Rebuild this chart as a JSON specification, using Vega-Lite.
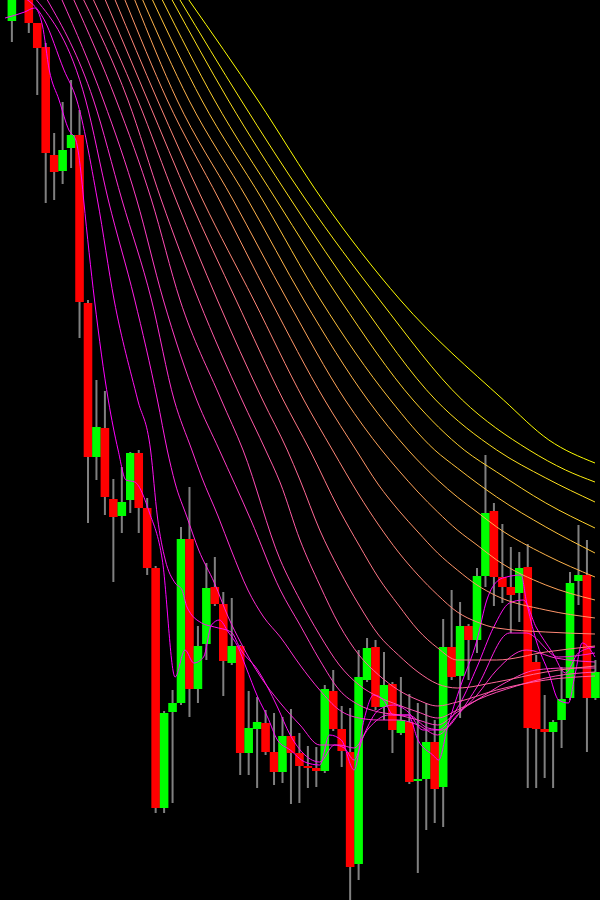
{
  "$schema": "https://vega.github.io/schema/vega-lite/v6.json",
  "width": 600,
  "height": 900,
  "padding": 0,
  "autosize": {"type": "none"},
  "background": "#000000",
  "config": {"view": {"stroke": null}},
  "datasets": {
    "candles": [
      {"t":0,"o":879,"c":903,"h":910,"l":858},
      {"t":1,"o":903,"c":920,"h":930,"l":902},
      {"t":2,"o":905,"c":877,"h":910,"l":867},
      {"t":3,"o":877,"c":852,"h":877,"l":805},
      {"t":4,"o":853,"c":747,"h":857,"l":697},
      {"t":5,"o":745,"c":728,"h":767,"l":700},
      {"t":6,"o":729,"c":750,"h":798,"l":716},
      {"t":7,"o":752,"c":765,"h":820,"l":732},
      {"t":8,"o":765,"c":598,"h":790,"l":562},
      {"t":9,"o":597,"c":443,"h":600,"l":377},
      {"t":10,"o":443,"c":473,"h":520,"l":420},
      {"t":11,"o":472,"c":403,"h":509,"l":385},
      {"t":12,"o":401,"c":383,"h":421,"l":318},
      {"t":13,"o":384,"c":398,"h":433,"l":367},
      {"t":14,"o":400,"c":447,"h":448,"l":387},
      {"t":15,"o":447,"c":392,"h":450,"l":367},
      {"t":16,"o":392,"c":332,"h":402,"l":325},
      {"t":17,"o":332,"c":92,"h":334,"l":87},
      {"t":18,"o":92,"c":187,"h":189,"l":87},
      {"t":19,"o":188,"c":197,"h":210,"l":97},
      {"t":20,"o":197,"c":361,"h":373,"l":195},
      {"t":21,"o":361,"c":211,"h":413,"l":183},
      {"t":22,"o":211,"c":254,"h":274,"l":197},
      {"t":23,"o":256,"c":312,"h":337,"l":240},
      {"t":24,"o":313,"c":296,"h":343,"l":294},
      {"t":25,"o":296,"c":239,"h":308,"l":204},
      {"t":26,"o":237,"c":254,"h":302,"l":235},
      {"t":27,"o":254,"c":147,"h":255,"l":125},
      {"t":28,"o":147,"c":172,"h":209,"l":125},
      {"t":29,"o":171,"c":178,"h":203,"l":112},
      {"t":30,"o":177,"c":148,"h":190,"l":145},
      {"t":31,"o":148,"c":128,"h":187,"l":115},
      {"t":32,"o":128,"c":164,"h":183,"l":117},
      {"t":33,"o":164,"c":147,"h":191,"l":96},
      {"t":34,"o":147,"c":134,"h":167,"l":97},
      {"t":35,"o":134,"c":132,"h":154,"l":112},
      {"t":36,"o":132,"c":129,"h":153,"l":113},
      {"t":37,"o":129,"c":211,"h":215,"l":127},
      {"t":38,"o":209,"c":171,"h":230,"l":169},
      {"t":39,"o":171,"c":149,"h":194,"l":133},
      {"t":40,"o":148,"c":33,"h":192,"l":-5},
      {"t":41,"o":36,"c":223,"h":250,"l":20},
      {"t":42,"o":220,"c":252,"h":262,"l":218},
      {"t":43,"o":253,"c":193,"h":260,"l":190},
      {"t":44,"o":193,"c":215,"h":248,"l":180},
      {"t":45,"o":216,"c":170,"h":218,"l":147},
      {"t":46,"o":167,"c":180,"h":223,"l":165},
      {"t":47,"o":178,"c":118,"h":206,"l":116},
      {"t":48,"o":119,"c":121,"h":197,"l":27},
      {"t":49,"o":121,"c":158,"h":197,"l":70},
      {"t":50,"o":158,"c":111,"h":180,"l":77},
      {"t":51,"o":113,"c":253,"h":281,"l":73},
      {"t":52,"o":253,"c":223,"h":310,"l":220},
      {"t":53,"o":224,"c":274,"h":298,"l":182},
      {"t":54,"o":274,"c":260,"h":276,"l":220},
      {"t":55,"o":260,"c":324,"h":332,"l":247},
      {"t":56,"o":324,"c":387,"h":445,"l":313},
      {"t":57,"o":389,"c":323,"h":397,"l":294},
      {"t":58,"o":323,"c":313,"h":376,"l":297},
      {"t":59,"o":313,"c":305,"h":353,"l":267},
      {"t":60,"o":307,"c":332,"h":348,"l":278},
      {"t":61,"o":333,"c":172,"h":356,"l":112},
      {"t":62,"o":238,"c":171,"h":245,"l":112},
      {"t":63,"o":171,"c":168,"h":205,"l":122},
      {"t":64,"o":168,"c":178,"h":180,"l":112},
      {"t":65,"o":180,"c":201,"h":233,"l":152},
      {"t":66,"o":202,"c":317,"h":328,"l":200},
      {"t":67,"o":319,"c":325,"h":375,"l":295},
      {"t":68,"o":325,"c":202,"h":360,"l":148},
      {"t":69,"o":202,"c":228,"h":240,"l":200}
    ],
    "ribbon": [
      {"k":1,"t":-0.81,"p":882},{"k":1,"t":1.51,"p":888},{"k":1,"t":2.67,"p":892},{"k":1,"t":3.6,"p":875},{"k":1,"t":4.42,"p":830},{"k":1,"t":5.58,"p":800},{"k":1,"t":6.74,"p":770},{"k":1,"t":7.56,"p":760},{"k":1,"t":8.26,"p":720},{"k":1,"t":8.49,"p":700},{"k":1,"t":9.77,"p":600},{"k":1,"t":11.4,"p":500},{"k":1,"t":12.56,"p":450},{"k":1,"t":13.49,"p":420},{"k":1,"t":14.53,"p":418},{"k":1,"t":16.28,"p":387},{"k":1,"t":17.79,"p":340},{"k":1,"t":19.3,"p":223},{"k":1,"t":20.47,"p":250},{"k":1,"t":21.51,"p":237},{"k":1,"t":22.67,"p":243},{"k":1,"t":23.6,"p":275},{"k":1,"t":24.53,"p":280},{"k":1,"t":25.58,"p":268},{"k":1,"t":26.74,"p":253},{"k":1,"t":27.67,"p":233},{"k":1,"t":29.07,"p":203},{"k":1,"t":30.23,"p":183},{"k":1,"t":31.4,"p":160},{"k":1,"t":32.91,"p":150},{"k":1,"t":34.65,"p":138},{"k":1,"t":36.4,"p":135},{"k":1,"t":37.56,"p":165},{"k":1,"t":38.95,"p":160},{"k":1,"t":40.47,"p":130},{"k":1,"t":41.63,"p":180},{"k":1,"t":42.79,"p":205},{"k":1,"t":43.95,"p":200},{"k":1,"t":45.12,"p":185},{"k":1,"t":46.86,"p":185},{"k":1,"t":48.02,"p":160},{"k":1,"t":49.77,"p":145},{"k":1,"t":50.47,"p":140},{"k":1,"t":51.51,"p":173},{"k":1,"t":53.02,"p":213},{"k":1,"t":55.0,"p":260},{"k":1,"t":56.16,"p":300},{"k":1,"t":57.56,"p":320},{"k":1,"t":58.49,"p":323},{"k":1,"t":60.23,"p":325},{"k":1,"t":60.81,"p":300},{"k":1,"t":61.98,"p":260},{"k":1,"t":63.49,"p":227},{"k":1,"t":64.65,"p":200},{"k":1,"t":65.81,"p":197},{"k":1,"t":66.63,"p":227},{"k":1,"t":67.44,"p":257},{"k":1,"t":68.95,"p":243},
      {"k":2,"t":0.93,"p":905},{"k":2,"t":3.84,"p":880},{"k":2,"t":6.16,"p":830},{"k":2,"t":7.67,"p":800},{"k":2,"t":10.12,"p":700},{"k":2,"t":12.09,"p":600},{"k":2,"t":14.88,"p":500},{"k":2,"t":16.4,"p":450},{"k":2,"t":17.21,"p":383},{"k":2,"t":18.14,"p":340},{"k":2,"t":19.3,"p":317},{"k":2,"t":20.12,"p":310},{"k":2,"t":20.7,"p":293},{"k":2,"t":22.44,"p":277},{"k":2,"t":23.95,"p":273},{"k":2,"t":25.93,"p":268},{"k":2,"t":27.09,"p":250},{"k":2,"t":29.07,"p":230},{"k":2,"t":30.23,"p":213},{"k":2,"t":31.4,"p":193},{"k":2,"t":32.91,"p":165},{"k":2,"t":34.65,"p":145},{"k":2,"t":36.4,"p":138},{"k":2,"t":38.14,"p":155},{"k":2,"t":39.3,"p":152},{"k":2,"t":40.47,"p":140},{"k":2,"t":41.63,"p":165},{"k":2,"t":43.37,"p":190},{"k":2,"t":45.12,"p":195},{"k":2,"t":46.86,"p":188},{"k":2,"t":48.6,"p":170},{"k":2,"t":50.35,"p":170},{"k":2,"t":53.02,"p":197},{"k":2,"t":55.0,"p":233},{"k":2,"t":56.98,"p":273},{"k":2,"t":58.84,"p":297},{"k":2,"t":60.47,"p":300},{"k":2,"t":61.98,"p":273},{"k":2,"t":63.95,"p":247},{"k":2,"t":65.47,"p":227},{"k":2,"t":66.98,"p":247},{"k":2,"t":68.95,"p":253},
      {"k":3,"t":2.91,"p":900},{"k":3,"t":8.72,"p":800},{"k":3,"t":11.4,"p":700},{"k":3,"t":14.53,"p":600},{"k":3,"t":17.21,"p":500},{"k":3,"t":18.37,"p":450},{"k":3,"t":19.3,"p":417},{"k":3,"t":20.7,"p":383},{"k":3,"t":22.09,"p":350},{"k":3,"t":23.95,"p":317},{"k":3,"t":25.58,"p":283},{"k":3,"t":27.09,"p":257},{"k":3,"t":29.42,"p":223},{"k":3,"t":31.74,"p":197},{"k":3,"t":34.07,"p":175},{"k":3,"t":36.4,"p":155},{"k":3,"t":38.72,"p":155},{"k":3,"t":40.47,"p":152},{"k":3,"t":42.21,"p":172},{"k":3,"t":44.53,"p":185},{"k":3,"t":46.86,"p":185},{"k":3,"t":49.19,"p":172},{"k":3,"t":50.93,"p":170},{"k":3,"t":53.02,"p":188},{"k":3,"t":55.0,"p":213},{"k":3,"t":58.84,"p":267},{"k":3,"t":60.81,"p":267},{"k":3,"t":64.65,"p":243},{"k":3,"t":68.95,"p":247},
      {"k":4,"t":4.19,"p":900},{"k":4,"t":9.65,"p":800},{"k":4,"t":13.02,"p":700},{"k":4,"t":16.51,"p":600},{"k":4,"t":19.19,"p":500},{"k":4,"t":21.28,"p":450},{"k":4,"t":22.44,"p":423},{"k":4,"t":24.42,"p":383},{"k":4,"t":25.93,"p":350},{"k":4,"t":27.91,"p":310},{"k":4,"t":29.77,"p":283},{"k":4,"t":31.74,"p":263},{"k":4,"t":34.07,"p":235},{"k":4,"t":36.4,"p":210},{"k":4,"t":38.72,"p":190},{"k":4,"t":41.05,"p":182},{"k":4,"t":43.37,"p":180},{"k":4,"t":45.7,"p":180},{"k":4,"t":48.02,"p":175},{"k":4,"t":50.35,"p":165},{"k":4,"t":52.67,"p":185},{"k":4,"t":55.0,"p":205},{"k":4,"t":57.33,"p":230},{"k":4,"t":60.81,"p":250},{"k":4,"t":64.3,"p":242},{"k":4,"t":68.95,"p":238},
      {"k":5,"t":5.93,"p":900},{"k":5,"t":10.81,"p":800},{"k":5,"t":14.77,"p":700},{"k":5,"t":17.91,"p":600},{"k":5,"t":21.86,"p":500},{"k":5,"t":24.53,"p":450},{"k":5,"t":28.26,"p":380},{"k":5,"t":31.74,"p":310},{"k":5,"t":34.07,"p":275},{"k":5,"t":36.4,"p":240},{"k":5,"t":38.72,"p":210},{"k":5,"t":41.05,"p":195},{"k":5,"t":43.37,"p":188},{"k":5,"t":45.7,"p":185},{"k":5,"t":48.02,"p":180},{"k":5,"t":50.35,"p":175},{"k":5,"t":52.67,"p":188},{"k":5,"t":55.0,"p":200},{"k":5,"t":58.49,"p":218},{"k":5,"t":61.98,"p":230},{"k":5,"t":65.47,"p":232},{"k":5,"t":68.95,"p":232},
      {"k":6,"t":7.33,"p":900},{"k":6,"t":12.33,"p":800},{"k":6,"t":16.51,"p":700},{"k":6,"t":19.88,"p":600},{"k":6,"t":24.77,"p":500},{"k":6,"t":27.33,"p":450},{"k":6,"t":31.74,"p":340},{"k":6,"t":34.07,"p":300},{"k":6,"t":36.4,"p":265},{"k":6,"t":38.72,"p":235},{"k":6,"t":41.05,"p":215},{"k":6,"t":43.37,"p":203},{"k":6,"t":45.7,"p":195},{"k":6,"t":48.02,"p":188},{"k":6,"t":50.35,"p":182},{"k":6,"t":52.67,"p":190},{"k":6,"t":55.0,"p":200},{"k":6,"t":59.65,"p":214},{"k":6,"t":64.3,"p":224},{"k":6,"t":68.95,"p":228},
      {"k":7,"t":8.49,"p":900},{"k":7,"t":13.72,"p":800},{"k":7,"t":17.67,"p":700},{"k":7,"t":22.09,"p":600},{"k":7,"t":27.21,"p":500},{"k":7,"t":30.0,"p":450},{"k":7,"t":31.74,"p":417},{"k":7,"t":34.07,"p":360},{"k":7,"t":36.4,"p":315},{"k":7,"t":38.72,"p":275},{"k":7,"t":41.05,"p":245},{"k":7,"t":43.37,"p":225},{"k":7,"t":45.7,"p":210},{"k":7,"t":48.02,"p":200},{"k":7,"t":50.35,"p":194},{"k":7,"t":52.67,"p":198},{"k":7,"t":57.33,"p":210},{"k":7,"t":63.14,"p":220},{"k":7,"t":68.95,"p":224},
      {"k":8,"t":9.65,"p":900},{"k":8,"t":14.88,"p":800},{"k":8,"t":19.42,"p":700},{"k":8,"t":24.3,"p":600},{"k":8,"t":29.65,"p":500},{"k":8,"t":32.56,"p":450},{"k":8,"t":34.07,"p":420},{"k":8,"t":36.4,"p":370},{"k":8,"t":38.72,"p":330},{"k":8,"t":41.05,"p":295},{"k":8,"t":43.37,"p":265},{"k":8,"t":45.7,"p":245},{"k":8,"t":48.02,"p":228},{"k":8,"t":50.35,"p":216},{"k":8,"t":52.67,"p":212},{"k":8,"t":57.33,"p":218},{"k":8,"t":63.14,"p":228},{"k":8,"t":68.95,"p":234},
      {"k":9,"t":11.05,"p":900},{"k":9,"t":16.05,"p":800},{"k":9,"t":21.05,"p":700},{"k":9,"t":26.51,"p":600},{"k":9,"t":32.09,"p":500},{"k":9,"t":35.23,"p":450},{"k":9,"t":38.72,"p":390},{"k":9,"t":41.05,"p":355},{"k":9,"t":43.37,"p":322},{"k":9,"t":45.7,"p":295},{"k":9,"t":48.02,"p":270},{"k":9,"t":50.35,"p":252},{"k":9,"t":52.67,"p":240},{"k":9,"t":57.33,"p":240},{"k":9,"t":63.14,"p":248},{"k":9,"t":68.95,"p":254},
      {"k":10,"t":12.21,"p":900},{"k":10,"t":17.21,"p":800},{"k":10,"t":22.56,"p":700},{"k":10,"t":28.6,"p":600},{"k":10,"t":34.53,"p":500},{"k":10,"t":37.91,"p":450},{"k":10,"t":41.05,"p":405},{"k":10,"t":43.37,"p":375},{"k":10,"t":45.7,"p":348},{"k":10,"t":48.02,"p":325},{"k":10,"t":50.35,"p":305},{"k":10,"t":52.67,"p":288},{"k":10,"t":55.0,"p":278},{"k":10,"t":57.33,"p":272},{"k":10,"t":63.14,"p":268},{"k":10,"t":68.95,"p":266},
      {"k":11,"t":13.37,"p":900},{"k":11,"t":18.37,"p":800},{"k":11,"t":24.53,"p":700},{"k":11,"t":30.58,"p":600},{"k":11,"t":36.98,"p":500},{"k":11,"t":40.7,"p":450},{"k":11,"t":43.37,"p":415},{"k":11,"t":45.7,"p":390},{"k":11,"t":48.02,"p":368},{"k":11,"t":50.35,"p":347},{"k":11,"t":52.67,"p":330},{"k":11,"t":55.0,"p":315},{"k":11,"t":57.33,"p":304},{"k":11,"t":63.14,"p":290},{"k":11,"t":68.95,"p":282},
      {"k":12,"t":14.53,"p":900},{"k":12,"t":19.53,"p":800},{"k":12,"t":26.16,"p":700},{"k":12,"t":32.56,"p":600},{"k":12,"t":39.42,"p":500},{"k":12,"t":43.72,"p":450},{"k":12,"t":45.7,"p":430},{"k":12,"t":48.02,"p":408},{"k":12,"t":50.35,"p":388},{"k":12,"t":52.67,"p":370},{"k":12,"t":55.0,"p":355},{"k":12,"t":57.33,"p":340},{"k":12,"t":63.14,"p":315},{"k":12,"t":68.95,"p":300},
      {"k":13,"t":15.47,"p":900},{"k":13,"t":20.93,"p":800},{"k":13,"t":27.91,"p":700},{"k":13,"t":34.53,"p":600},{"k":13,"t":42.09,"p":500},{"k":13,"t":46.86,"p":450},{"k":13,"t":50.35,"p":420},{"k":13,"t":52.67,"p":403},{"k":13,"t":55.0,"p":388},{"k":13,"t":57.33,"p":373},{"k":13,"t":63.14,"p":345},{"k":13,"t":68.95,"p":323},
      {"k":14,"t":16.63,"p":900},{"k":14,"t":22.44,"p":800},{"k":14,"t":29.65,"p":700},{"k":14,"t":36.51,"p":600},{"k":14,"t":44.77,"p":500},{"k":14,"t":50.0,"p":450},{"k":14,"t":52.67,"p":432},{"k":14,"t":55.0,"p":417},{"k":14,"t":57.33,"p":403},{"k":14,"t":63.14,"p":373},{"k":14,"t":68.95,"p":347},
      {"k":15,"t":17.79,"p":900},{"k":15,"t":23.95,"p":800},{"k":15,"t":31.28,"p":700},{"k":15,"t":38.84,"p":600},{"k":15,"t":47.44,"p":500},{"k":15,"t":53.49,"p":450},{"k":15,"t":57.33,"p":428},{"k":15,"t":63.14,"p":397},{"k":15,"t":68.95,"p":372},
      {"k":16,"t":18.95,"p":900},{"k":16,"t":25.58,"p":800},{"k":16,"t":33.02,"p":700},{"k":16,"t":41.05,"p":600},{"k":16,"t":50.12,"p":500},{"k":16,"t":57.33,"p":450},{"k":16,"t":63.14,"p":422},{"k":16,"t":68.95,"p":398},
      {"k":17,"t":19.88,"p":900},{"k":17,"t":27.09,"p":800},{"k":17,"t":34.77,"p":700},{"k":17,"t":43.49,"p":600},{"k":17,"t":53.26,"p":500},{"k":17,"t":61.16,"p":450},{"k":17,"t":65.47,"p":430},{"k":17,"t":68.95,"p":418},
      {"k":18,"t":20.93,"p":900},{"k":18,"t":29.07,"p":800},{"k":18,"t":36.74,"p":700},{"k":18,"t":45.93,"p":600},{"k":18,"t":58.14,"p":500},{"k":18,"t":63.5,"p":460},{"k":18,"t":68.95,"p":437}
    ]
  },
  "layer": [
    {
      "data": {"name": "candles"},
      "mark": {"type": "rule", "color": "#808080", "strokeWidth": 2, "clip": true},
      "encoding": {
        "x": {"field": "t", "type": "quantitative", "scale": {"domain": [-0.814, 68.953], "nice": false, "zero": false}, "axis": null},
        "y": {"field": "l", "type": "quantitative", "scale": {"domain": [0, 900], "nice": false, "zero": false}, "axis": null},
        "y2": {"field": "h"}
      }
    },
    {
      "data": {"name": "candles"},
      "mark": {"type": "bar", "size": 8.6, "clip": true},
      "encoding": {
        "x": {"field": "t", "type": "quantitative", "scale": {"domain": [-0.814, 68.953], "nice": false, "zero": false}, "axis": null},
        "y": {"field": "o", "type": "quantitative", "scale": {"domain": [0, 900], "nice": false, "zero": false}, "axis": null},
        "y2": {"field": "c"},
        "color": {"condition": {"test": "datum.c >= datum.o", "value": "#00ff00"}, "value": "#ff0000"}
      }
    },
    {
      "data": {"name": "ribbon"},
      "mark": {"type": "line", "strokeWidth": 1, "clip": true, "interpolate": "monotone"},
      "encoding": {
        "x": {"field": "t", "type": "quantitative", "scale": {"domain": [-0.814, 68.953], "nice": false, "zero": false}, "axis": null},
        "y": {"field": "p", "type": "quantitative", "scale": {"domain": [0, 900], "nice": false, "zero": false}, "axis": null},
        "detail": {"field": "k", "type": "nominal"},
        "color": {"field": "k", "type": "quantitative", "scale": {"domain": [1, 18], "range": ["#ff00ff", "#ffff00"], "interpolate": "rgb"}, "legend": null},
        "order": {"field": "t", "type": "quantitative"}
      }
    }
  ]
}
